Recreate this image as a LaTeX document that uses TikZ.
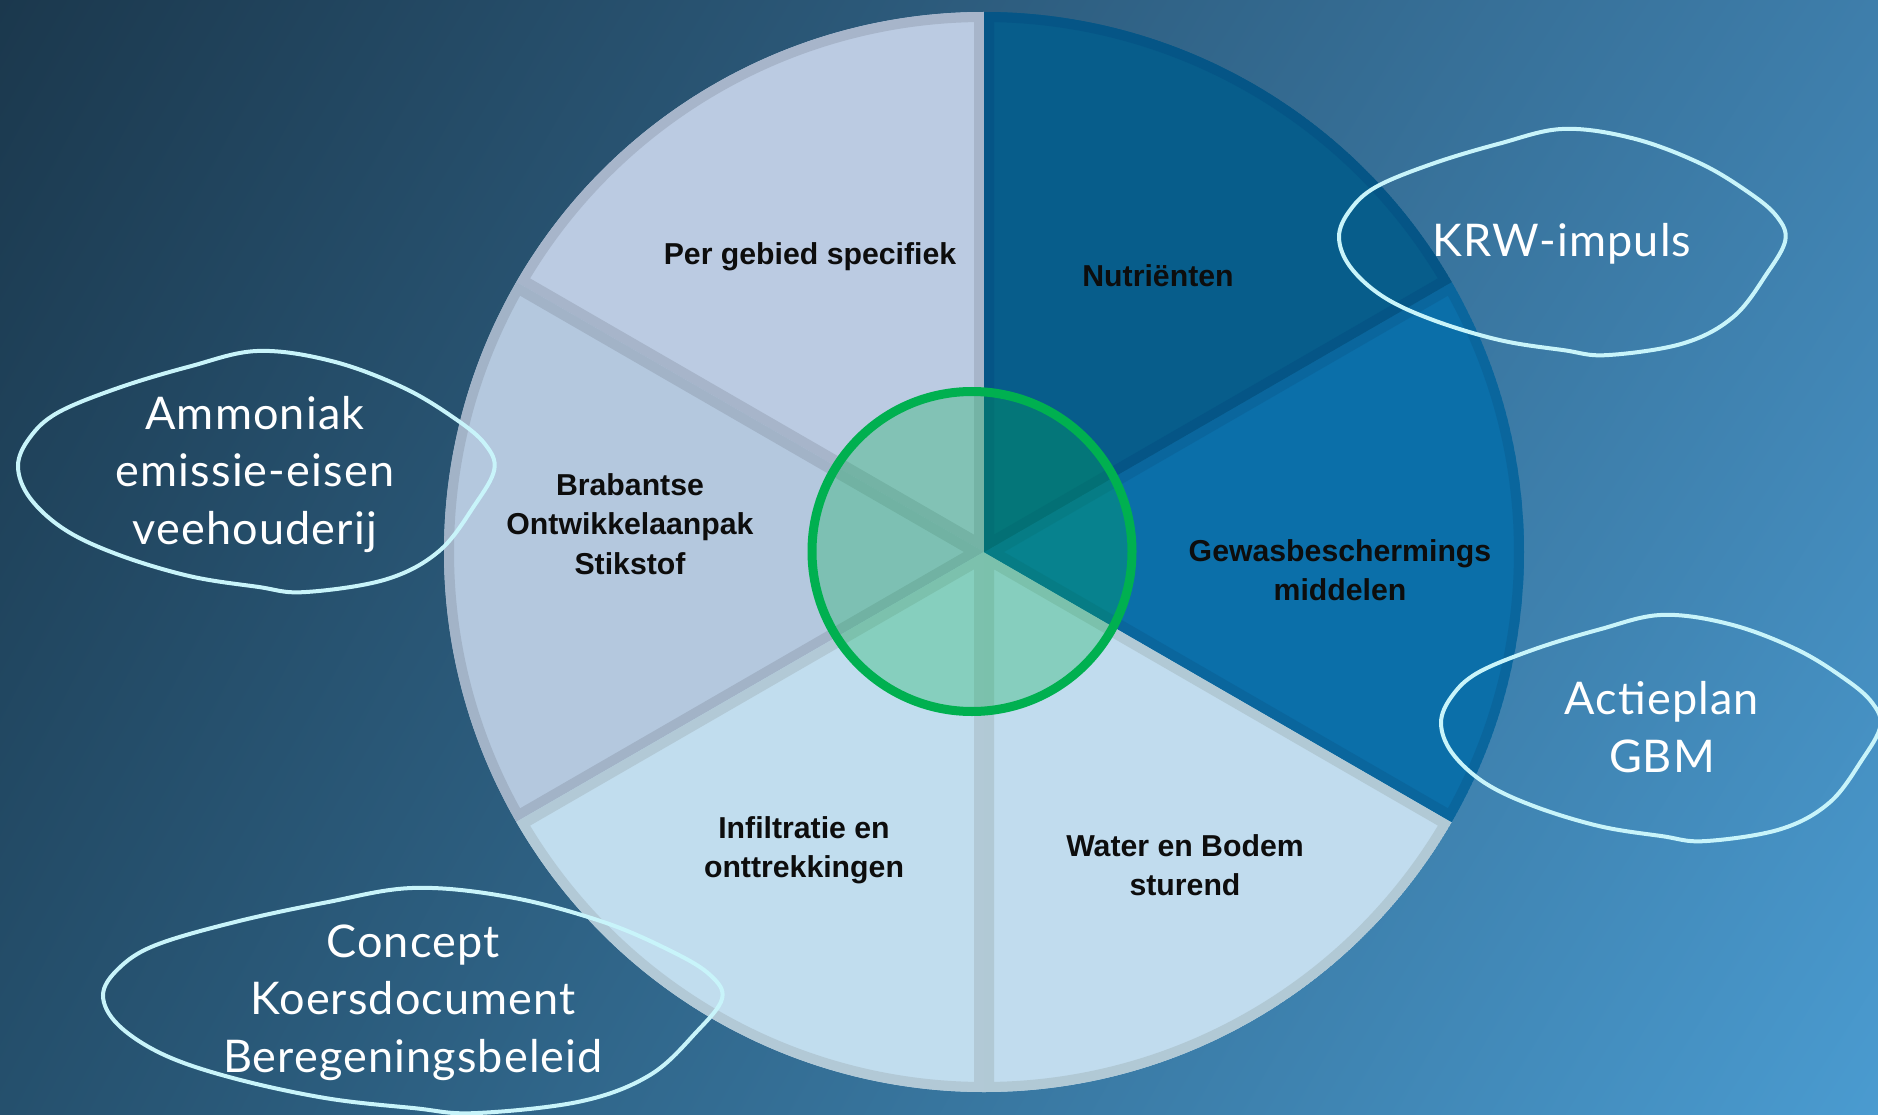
\documentclass[tikz,border=0pt]{standalone}
\usepackage{fontspec}
\usetikzlibrary{shadings}
\setmainfont{Lato}
\newfontfamily\blobfont{Lato}[LetterSpace=2.5]
\newfontfamily\wedgefont{Liberation Sans}
\definecolor{bgUL}{HTML}{1B384D}
\definecolor{bgUR}{HTML}{3E7EAB}
\definecolor{bgLL}{HTML}{25506D}
\definecolor{bgLR}{HTML}{4A9BD0}
\definecolor{pgF}{HTML}{BBCBE2}
\definecolor{pgB}{HTML}{A7B5CA}
\definecolor{brF}{HTML}{B4C8DE}
\definecolor{brB}{HTML}{A2B3C7}
\definecolor{inF}{HTML}{C1DDEE}
\definecolor{inB}{HTML}{B2C9D6}
\definecolor{waF}{HTML}{C1DCEE}
\definecolor{waB}{HTML}{B1C9D5}
\definecolor{gwF}{HTML}{0B6FA9}
\definecolor{gwB}{HTML}{0A669D}
\definecolor{nuF}{HTML}{075D8B}
\definecolor{nuB}{HTML}{055586}
\definecolor{ringG}{HTML}{00B050}
\definecolor{blobC}{HTML}{C8F4FA}
\definecolor{labK}{HTML}{0D0D0D}
\newcommand{\pwedge}[4]{%
  \begin{scope}
    \clip (C) -- ++(#1:540) arc[start angle=#1, end angle=#2, radius=540] -- cycle;
    \filldraw[fill=#3, draw=#4, line width=0.2cm, line join=miter]
      (C) -- ++(#1:540) arc[start angle=#1, end angle=#2, radius=540] -- cycle;
  \end{scope}}
\def\blobshape{plot[smooth cycle, tension=0.6] coordinates {(0,0.479) (0.025,0.361) (0.084,0.258) (0.211,0.156) (0.36,0.068) (0.502,0.004) (0.658,0.046) (0.808,0.156) (0.919,0.288) (0.979,0.39) (0.998,0.493) (0.957,0.64) (0.882,0.831) (0.77,0.948) (0.599,1.0) (0.502,0.978) (0.36,0.934) (0.211,0.846) (0.099,0.743) (0.025,0.611)}}
\tikzset{
  wlab/.style={font=\wedgefont\bfseries\fontsize{8.6}{11.2}\selectfont, align=center, inner sep=0pt, text=labK},
  blab/.style={font=\blobfont\fontsize{12.8}{16.4}\selectfont, align=center, inner sep=0pt, text=white},
  blobline/.style={draw=blobC, line width=0.04cm},
  greenring/.style={draw=ringG, line width=0.09cm, fill=ringG, fill opacity=0.3, draw opacity=1}
}
\begin{document}
\begin{tikzpicture}[x=0.01cm,y=0.01cm]
\useasboundingbox (0,0) rectangle (1878,1114);
\shade[upper left=bgUL, upper right=bgUR, lower left=bgLL, lower right=bgLR] (0,0) rectangle (1878,1114);
\coordinate (C) at (984,562);
\pwedge{90}{150}{pgF}{pgB}
\pwedge{150}{210}{brF}{brB}
\pwedge{210}{270}{inF}{inB}
\pwedge{270}{330}{waF}{waB}
\pwedge{-30}{30}{gwF}{gwB}
\pwedge{30}{90}{nuF}{nuB}
\draw[greenring] (972,562.5) circle[radius=160];
\node[wlab] (pg) at (810,857.5) {Per gebied specifiek};
\node[wlab] (nu) at (1158,838) {Nutriënten};
\node[wlab] (br) at (630,590) {Brabantse\\Ontwikkelaanpak\\Stikstof};
\node[wlab] (gw) at (1340,544) {Gewasbeschermings\\middelen};
\node[wlab] (in) at (804,264) {Infiltratie en\\onttrekkingen};
\node[wlab] (wa) at (1185,249) {Water en Bodem\\sturend};
\begin{scope}[shift={(1339,986)}, x=4.47cm, y=-2.27cm]
  \draw[blobline] \blobshape;
\end{scope}
\begin{scope}[shift={(18,764)}, x=4.77cm, y=-2.42cm]
  \draw[blobline] \blobshape;
\end{scope}
\begin{scope}[shift={(1441,500)}, x=4.40cm, y=-2.27cm]
  \draw[blobline] \blobshape;
\end{scope}
\begin{scope}[shift={(103,227)}, x=6.20cm, y=-2.26cm]
  \draw[blobline] \blobshape;
\end{scope}
\node[blab] (krw) at (1562,870.5) {KRW-impuls};
\node[blab] (amm) at (255,639.5) {Ammoniak\\emissie-eisen\\veehouderij};
\node[blab] (act) at (1662,387) {Actieplan\\GBM};
\node[blab] (con) at (413,111.5) {Concept\\Koersdocument\\Beregeningsbeleid};
\end{tikzpicture}
\end{document}
